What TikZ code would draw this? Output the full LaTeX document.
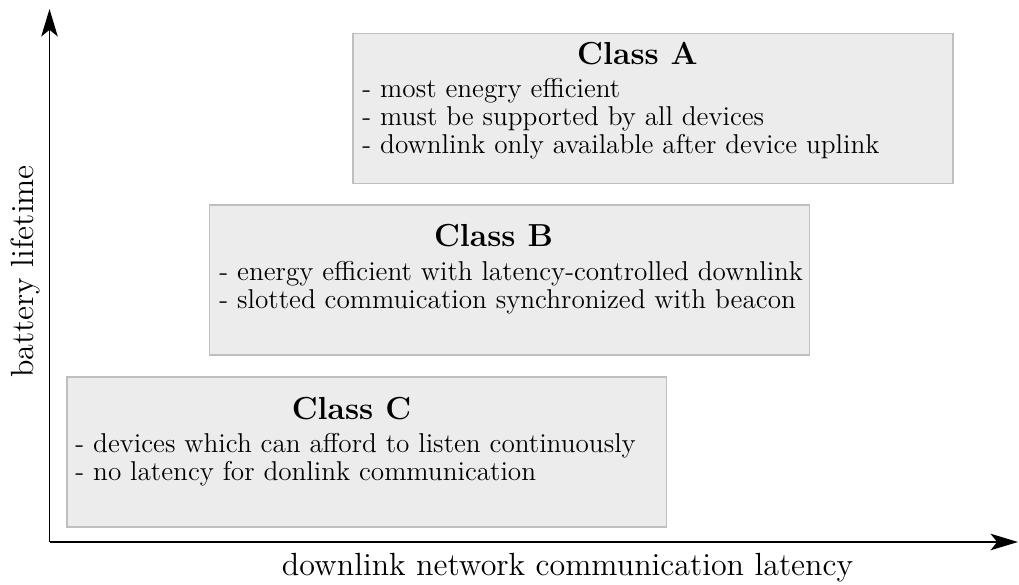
\documentclass[tikz,border=0pt]{standalone}
\usetikzlibrary{arrows.meta}

\definecolor{boxfill}{gray}{0.925}
\definecolor{boxline}{gray}{0.75}

\tikzset{
  axis/.style={line width=0.8pt, -{Stealth[length=12.5pt, width=7.5pt, inset=3pt]}},
  classbox/.style={draw=boxline, fill=boxfill, line width=0.6pt, rectangle,
    minimum width=9.6cm, minimum height=2.4cm, inner sep=0pt},
  classtitle/.style={anchor=base, inner sep=0pt, font=\fontsize{14.5}{15}\selectfont\bfseries},
  item/.style={anchor=base west, inner sep=0pt, font=\fontsize{12.4}{12.4}\selectfont},
  axislabel/.style={anchor=base, inner sep=0pt, font=\fontsize{14.6}{15}\selectfont}
}

\begin{document}
\begin{tikzpicture}[x=0.016cm, y=-0.016cm]
  \useasboundingbox (0,0) rectangle (1019,585);

  % axes
  \coordinate (origin) at (49.5,542);
  \coordinate (ytop) at (49.5,9);
  \coordinate (xend) at (1018,542);
  \draw[axis] (origin) -- (ytop);
  \draw[axis] (origin) -- (xend);
  \node[axislabel, rotate=90] (ylab) at (33.3,271.5) {battery lifetime};
  \node[axislabel] (xlab) at (567.5,575) {downlink network communication latency};

  % Class A
  \node[classbox] (boxA) at (653,108.3) {};
  \node[classtitle] (titleA) at (637.5,64.3) {Class A};
  \node[item] (a1) at (362,98) {- most enegry efficient};
  \node[item] (a2) at (362,126) {- must be supported by all devices};
  \node[item] (a3) at (362,153.5) {- downlink only available after device uplink};

  % Class B
  \node[classbox] (boxB) at (509.5,280) {};
  \node[classtitle] (titleB) at (493.5,246.7) {Class B};
  \node[item] (b1) at (219,280.2) {- energy efficient with latency-controlled downlink};
  \node[item] (b2) at (219,308.5) {- slotted commuication synchronized with beacon};

  % Class C
  \node[classbox] (boxC) at (366.9,452) {};
  \node[classtitle] (titleC) at (351.5,419) {Class C};
  \node[item] (c1) at (75,452) {- devices which can afford to listen continuously};
  \node[item] (c2) at (75,480) {- no latency for donlink communication};
\end{tikzpicture}
\end{document}
